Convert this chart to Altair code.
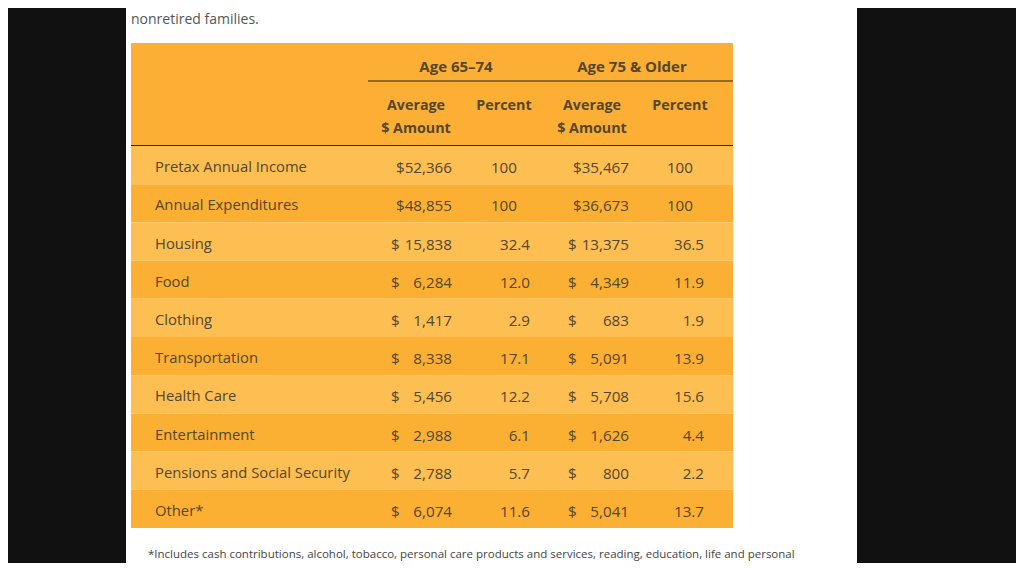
import altair as alt
import pandas as pd

categories = ["Pretax Annual Income", "Annual Expenditures", "Housing", "Food", "Clothing",
              "Transportation", "Health Care", "Entertainment", "Pensions and Social Security", "Other*"]
amount_65_74 = [52366, 48855, 15838, 6284, 1417, 8338, 5456, 2988, 2788, 6074]
percent_65_74 = ["100", "100", "32.4", "12.0", "2.9", "17.1", "12.2", "6.1", "5.7", "11.6"]
amount_75_up = [35467, 36673, 13375, 4349, 683, 5091, 5708, 1626, 800, 5041]
percent_75_up = ["100", "100", "36.5", "11.9", "1.9", "13.9", "15.6", "4.4", "2.2", "13.7"]

group_headers = ["Age 65\u201374", "Age 75 & Older"]
intro_text = "nonretired families."
footnote = ("*Includes cash contributions, alcohol, tobacco, personal care products and services, "
            "reading, education, life and personal")

df = pd.DataFrame({
    "row": categories,
    "a65": amount_65_74,
    "p65": percent_65_74,
    "a75": amount_75_up,
    "p75": percent_75_up,
    "shade": ["light" if i % 2 == 0 else "dark" for i in range(len(categories))],
    "full65": [p == "100" for p in percent_65_74],
    "full75": [p == "100" for p in percent_75_up],
})

FONT = "Open Sans"
TXT = "#54472f"
O = 8  # page margin offset
DY = 3
LS = 14.8   # label size
NS = 15.2   # number size

yscale = alt.Scale(domain=categories, range=[146 - O, 528 - O], paddingInner=0, paddingOuter=0)
Y = alt.Y("row:N", scale=yscale, axis=None)

base = alt.Chart(df).transform_calculate(
    s65="'$' + format(datum.a65, ',')",
    s75="'$' + format(datum.a75, ',')",
)
one = alt.Chart(pd.DataFrame({"k": [0]}))

page = one.mark_rect(color="white").encode(
    x=alt.value(126 - O), x2=alt.value(857 - O), y=alt.value(0), y2=alt.value(571))
header_bg = one.mark_rect(color="#FCAF34").encode(
    x=alt.value(131 - O), x2=alt.value(733 - O), y=alt.value(43 - O), y2=alt.value(146 - O))

rows = base.mark_rect().encode(
    x=alt.value(131 - O), x2=alt.value(733 - O),
    y=Y,
    color=alt.Color("shade:N", scale=alt.Scale(domain=["light", "dark"], range=["#FDBE52", "#FBAF33"]), legend=None),
)

def txt(align="left", bold=False, size=LS, dy=DY):
    return dict(font=FONT, fontSize=size, color=TXT, align=align, baseline="middle", dy=dy,
                fontWeight="bold" if bold else "normal")

labels = base.mark_text(**txt()).encode(x=alt.value(155 - O), y=Y, text="row:N")

# full rows: "$52,366" as one string; other rows: "$" at left, number right-aligned
full65 = base.transform_filter("datum.full65").mark_text(**txt("right", size=NS)).encode(
    x=alt.value(452 - O), y=Y, text="s65:N")
dol65 = base.transform_filter("!datum.full65").mark_text(**txt(size=NS)).encode(
    x=alt.value(391 - O), y=Y, text=alt.value("$"))
num65 = base.transform_filter("!datum.full65").mark_text(**txt("right", size=NS)).encode(
    x=alt.value(452 - O), y=Y, text=alt.Text("a65:Q", format=","))
pct65a = base.transform_filter("datum.full65").mark_text(**txt("right", size=NS)).encode(
    x=alt.value(517 - O), y=Y, text="p65:N")
pct65b = base.transform_filter("!datum.full65").mark_text(**txt("right", size=NS)).encode(
    x=alt.value(530 - O), y=Y, text="p65:N")

full75 = base.transform_filter("datum.full75").mark_text(**txt("right", size=NS)).encode(
    x=alt.value(629 - O), y=Y, text="s75:N")
dol75 = base.transform_filter("!datum.full75").mark_text(**txt(size=NS)).encode(
    x=alt.value(568 - O), y=Y, text=alt.value("$"))
num75 = base.transform_filter("!datum.full75").mark_text(**txt("right", size=NS)).encode(
    x=alt.value(629 - O), y=Y, text=alt.Text("a75:Q", format=","))
pct75a = base.transform_filter("datum.full75").mark_text(**txt("right", size=NS)).encode(
    x=alt.value(693 - O), y=Y, text="p75:N")
pct75b = base.transform_filter("!datum.full75").mark_text(**txt("right", size=NS)).encode(
    x=alt.value(704 - O), y=Y, text="p75:N")

def htext(s, x, y, size=14.3):
    return one.mark_text(**txt("center", bold=True, size=size, dy=0)).encode(
        x=alt.value(x - O), y=alt.value(y - O), text=alt.value(s))

headers = [
    htext(group_headers[0], 456, 67, 15),
    htext(group_headers[1], 632, 67, 15),
    htext("Average", 416, 106), htext("$ Amount", 416, 129),
    htext("Percent", 504, 106),
    htext("Average", 592, 106), htext("$ Amount", 592, 129),
    htext("Percent", 680, 106),
]

rule1 = one.mark_rule(color="#2a2418", strokeWidth=1.2).encode(
    x=alt.value(368 - O), x2=alt.value(733 - O), y=alt.value(81 - O))
rule2 = one.mark_rule(color="#2a2418", strokeWidth=1.2).encode(
    x=alt.value(131 - O), x2=alt.value(733 - O), y=alt.value(145.5 - O))

intro = one.mark_text(font=FONT, fontSize=14, color="#555555", align="left", baseline="alphabetic").encode(
    x=alt.value(131 - O), y=alt.value(24 - O), text=alt.value(intro_text))
foot = one.mark_text(font=FONT, fontSize=11.5, color="#444444", align="left", baseline="middle").encode(
    x=alt.value(148 - O), y=alt.value(555 - O), text=alt.value(footnote))

chart = alt.layer(
    page, header_bg, rows, labels, full65, dol65, num65, pct65a, pct65b,
    full75, dol75, num75, pct75a, pct75b,
    *headers, rule1, rule2, intro, foot
).properties(
    width=1008, height=555, autosize=alt.AutoSizeParams(type="none"), padding=0,
    background="#111111",
).configure_view(stroke=None)

chart.save("out.html", embed_options={"renderer": "svg", "actions": False})
